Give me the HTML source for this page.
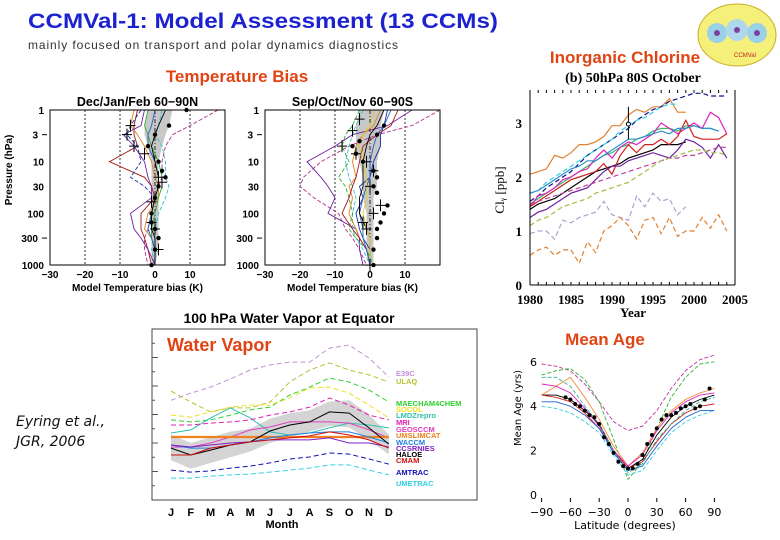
<!DOCTYPE html>
<html><head><meta charset="utf-8"><style>
body{margin:0;background:#fff;width:780px;height:540px;overflow:hidden}
svg{display:block;font-family:"Liberation Sans",sans-serif}
</style></head><body>
<svg id="s" width="780" height="540" viewBox="0 0 780 540">
<text x="28" y="28" font-size="21" font-weight="bold" fill="#1c22d0" textLength="470" lengthAdjust="spacingAndGlyphs">CCMVal-1:  Model Assessment (13 CCMs)</text>
<text x="28" y="49" font-size="12" fill="#333" textLength="370">mainly focused on transport and polar dynamics diagnostics</text>
<g>
<ellipse cx="737" cy="35" rx="39" ry="31" fill="#f4f07a" stroke="#c8b020"/>
<circle cx="717" cy="33" r="10" fill="#9ad0e8"/><circle cx="737" cy="30" r="11" fill="#b0d8ec"/><circle cx="757" cy="33" r="10" fill="#9ad0e8"/>
<circle cx="717" cy="33" r="3" fill="#8040a0"/><circle cx="737" cy="30" r="3" fill="#8040a0"/><circle cx="757" cy="33" r="3" fill="#8040a0"/>
<text x="745" y="57" font-size="6" fill="#c02020" text-anchor="middle">CCMVal</text></g>
<text x="237" y="82" font-size="17" font-weight="bold" fill="#e04414" text-anchor="middle">Temperature Bias</text>
<text x="625" y="63" font-size="17" font-weight="bold" fill="#e04414" text-anchor="middle">Inorganic Chlorine</text>
<text x="605" y="345" font-size="17" font-weight="bold" fill="#e04414" text-anchor="middle">Mean Age</text>
<text x="16" y="426" font-size="14" font-style="italic" fill="#111" font-family="DejaVu Sans,sans-serif">Eyring et al.,</text>
<text x="16" y="446" font-size="14" font-style="italic" fill="#111" font-family="DejaVu Sans,sans-serif">JGR, 2006</text>
</svg>
<script>
// ---------- Temperature bias data ----------
const tLevels=[1,2,3,5,10,20,30,50,100,200,300,500,1000];
const djfColors=["#b03090","#a01818","#1830a0","#30c0d0","#e08020","#30b030","#7020a0","#2060d0","#000"];
const djfDash=[1,0,1,1,0,0,0,0,0];
const djfLines=[
[18,10,5,3,2,2,1,0,-1,-2,-3,-3,-2],
[-5,-6,-6,-5,-13,-3,-1,0,-4,-4,-3,-2,-1],
[-4,-7,-8,-5,-4,-7,-3,0,-1,-2,-1,0,0],
[2,1,0,2,3,3,4,3,1,0,0,-1,0],
[-6,-7,-5,-3,-1,0,1,1,-2,-3,-1,0,0],
[-2,-3,-2,-1,1,2,2,1,0,-1,-1,0,0],
[-3,-4,-9,-6,-3,-2,-1,-1,-7,-6,-4,-2,0],
[0,-1,-2,-2,0,1,1,0,-1,-2,-1,0,0],
[3,1,0,-1,0,1,1,0,-1,-1,0,0,0]];
const djfBandLo=[-2,-3,-3,-2,-1,-1,-1,-1,-1,-1,-1,-1,-1];
const djfBandHi=[5,4,3,2,1,1,1,1,1,1,1,1,0];
const djfDotsX=[9,4,0,-2,1,2,3,1,0,-1,-1,0,1,0,-1];
const djfDotsP=[1,2,3,5,10,15,20,30,50,100,150,200,300,500,1000];
const djfCrossX=[-7,-8,-6,-3,1,2,-1,-1,0,1];
const djfCrossP=[2,3,5,7,20,25,60,150,200,500];
const sonColors=["#b03090","#7020a0","#1830a0","#30c0d0","#e08020","#30b030","#a01818","#2060d0","#000","#e0d020"];
const sonDash=[1,0,0,1,0,1,0,0,0,0];
const sonLines=[
[20,12,2,-6,-14,-19,-20,-16,-9,-7,-5,-3,-1],
[12,5,-5,-10,-18,-14,-12,-10,-12,-4,-3,-3,-2],
[5,4,3,3,1,0,-3,-2,-4,-3,-2,0,0],
[-2,-4,-5,-6,-7,-6,-5,-4,-5,-5,-4,-2,0],
[3,1,-2,-4,-5,-4,-6,-5,-6,-4,-3,-1,0],
[-3,-5,-7,-8,-6,-9,-7,-6,-5,-6,-4,-1,1],
[8,6,2,-2,-3,-4,-5,-6,-8,-5,-3,-1,0],
[6,4,2,1,0,0,-1,-2,-3,-2,-2,-1,0],
[4,2,0,-1,-2,-2,-2,-3,-3,-1,0,0,0],
[1,0,-2,-3,-2,-1,-1,-1,-2,-1,0,0,0]];
const sonBandLo=[-3,-4,-4,-4,-3,-2,-2,-2,-1,-1,-1,-1,0];
const sonBandHi=[4,3,3,3,2,2,2,1,1,1,1,1,1];
const sonDotsX=[4,2,-3,-5,-4,-2,1,2,1,2,5,4,3,2,2,1,1];
const sonDotsP=[2,3,4,5,7,10,15,20,30,40,70,100,150,200,300,500,1000];
const sonCrossX=[-3,-5,-8,-4,-1,1,0,3,1,-2,-1,0];
const sonCrossP=[1.5,2.5,5,7,10,15,30,70,100,150,200,1000];
// ---------- Chlorine data ----------
const clYears=[1980,1981,1982,1983,1984,1985,1986,1987,1988,1989,1990,1991,1992,1993,1994,1995,1996,1997,1998,1999,2000,2001,2002,2003,2004];
const clColors=["#e08030","#10108a","#30d0e0","#000","#30c060","#e020c0","#d02020","#7020a0","#c040a0","#a0c040","#b0a0d0","#e08030","#3090d0"];
const clDash=[0,1,1,0,0,0,0,0,1,1,1,1,0];
const clSeries=[
[2.05,2.1,2.15,2.4,2.35,2.45,2.6,2.6,2.65,2.75,2.95,2.95,3.15,3.25,3.2,3.3,3.3,3.45,3.2,3.2],
[1.55,1.65,1.8,1.9,2.0,2.1,2.25,2.4,2.5,2.6,2.7,2.8,2.9,3.05,3.15,3.25,3.3,3.4,3.45,3.5,3.55,3.55,3.5,3.5,3.5],
[1.7,1.75,1.9,2.0,2.1,2.2,2.3,2.4,2.5,2.6,2.7,2.85,2.95,3.05,3.1,3.2,3.3,3.35,3.35],
[1.4,1.5,1.55,1.6,1.7,1.8,1.9,2.0,2.1,2.15,2.2,2.25,2.35,2.4,2.45,2.5,2.6,2.6,2.6,2.65],
[1.5,1.6,1.7,1.8,1.9,2.0,2.1,2.2,2.3,2.4,2.45,2.55,2.6,2.7,2.75,2.85,2.9,2.9,2.85,2.95,2.95,2.9,2.9,2.85],
[1.45,1.65,1.7,1.8,1.95,2.0,2.1,2.15,2.35,2.5,2.35,2.55,2.65,2.6,2.7,2.8,3.0,2.9,2.8,2.9,3.0,2.9,3.2,3.1,2.8],
[1.45,1.55,1.65,1.75,1.85,1.95,2.0,2.05,2.1,2.25,2.05,2.4,2.6,2.45,2.6,2.6,2.7,2.6,2.75,3.05,2.75,2.7,2.7,2.7,2.8],
[1.25,1.35,1.4,1.5,1.6,1.7,1.75,1.8,1.95,2.1,2.2,2.2,2.3,2.35,2.4,2.45,2.4,2.35,2.5,2.7,2.65,2.55,2.35,2.6,2.35],
[1.5,1.55,1.6,1.65,1.7,1.75,1.8,1.85,1.9,1.95,2.0,2.05,2.1,2.15,2.2,2.25,2.3,2.35,2.35,2.4,2.4,2.45,2.5,2.55,2.55],
[1.1,1.2,1.25,1.35,1.45,1.5,1.55,1.6,1.7,1.75,1.8,1.85,1.9,2.0,2.1,2.2,2.3,2.35,2.4,2.45,2.5,2.5,2.45,2.45,2.4],
[0.95,1.0,1.0,0.85,1.2,1.15,1.25,1.3,1.35,1.55,1.3,1.25,1.2,1.65,1.45,1.7,1.55,1.6,1.3,1.45],
[0.55,0.65,0.7,0.55,0.65,0.65,0.4,0.8,0.6,1.0,1.1,1.25,1.1,0.85,1.2,1.25,0.95,1.25,0.9,1.0,1.0,1.25,1.05,1.3,1.0],
[1.7,1.75,1.85,1.95,2.05,2.15,2.2,2.3,2.3,2.4,2.5,2.6,2.7,2.7,2.75,2.8,2.85,2.8,2.9,2.9,2.95,2.9,2.9,2.85]];
const clTicks=[1980,1985,1990,1995,2000,2005];
const clYTicks=[0,1,2,3];
// ---------- Water vapor data ----------
const wvMonths=["J","F","M","A","M","J","J","A","S","O","N","D"];
const wvNames=["E39C","ULAQ","MAECHAM4CHEM","SOCOL","LMDZrepro","MRI","GEOSCCM","UMSLIMCAT","WACCM","CCSRNIES","HALOE","CMAM","AMTRAC","UMETRAC"];
const wvColors=["#c090d8","#b8c030","#30d030","#f0e020","#30c0b0","#e020b0","#e040c0","#f08020","#2080e0","#8020c0","#000","#d01010","#1010b0","#30d0e0"];
const wvDash=[1,1,1,1,0,1,0,0,0,0,0,0,1,1];
const wvLabelY=[373,381,403,409,415,422,429,435,442,448,454,460,472,483];
const wvSeries=[
[3.5,3.75,3.96,4.25,4.56,4.74,4.84,4.84,5.33,5.44,4.98,4.32],
[3.82,3.44,3.09,3.23,3.23,3.44,4.14,4.56,4.81,4.56,4.39,4.14],
[2.81,2.74,2.81,2.98,3.16,3.26,3.68,3.96,4.28,4.14,3.86,3.44],
[2.98,2.91,3.09,3.26,3.33,3.33,3.58,3.93,3.96,3.75,3.33,2.88],
[2.35,2.46,2.88,3.23,2.88,2.39,2.28,2.35,2.53,2.7,2.63,2.53],
[2.63,2.63,2.7,2.74,2.81,2.98,3.09,3.26,3.58,3.33,2.98,2.81],
[1.86,1.86,2.0,2.21,2.46,2.56,2.74,2.74,2.74,2.7,2.46,2.18],
[2.21,2.21,2.21,2.21,2.21,2.21,2.21,2.21,2.21,2.21,2.21,2.21],
[1.93,1.82,1.82,1.93,2.04,2.18,2.28,2.35,2.39,2.39,2.21,2.0],
[1.93,1.86,1.93,2.0,2.04,2.11,2.11,2.11,2.18,2.0,2.0,1.86],
[1.82,1.58,1.75,1.93,2.04,2.42,2.63,2.74,3.09,3.05,2.53,1.96],
[1.58,1.58,1.82,1.93,2.04,2.11,2.18,2.25,2.39,2.28,2.11,1.82],
[1.05,0.98,1.02,1.12,1.19,1.3,1.44,1.51,1.65,1.61,1.44,1.26],
[0.77,0.77,0.84,0.88,0.91,0.98,1.05,1.12,1.23,1.23,1.05,0.88]];
const wvBandLo=[1.4,1.1,1.3,1.5,1.7,2.0,2.2,2.4,2.6,2.55,2.1,1.6];
const wvBandHi=[2.3,2.0,2.2,2.4,2.5,2.85,3.05,3.15,3.45,3.5,3.0,2.3];
// ---------- Mean age data ----------
const maLats=[-90,-75,-60,-45,-30,-15,0,15,30,45,60,75,90];
const maColors=["#c030a0","#30b030","#f09030","#000","#d02020","#30d0e0","#e020c0","#30b0a0","#2060d0"];
const maDash=[1,1,0,0,0,1,0,1,0];
const maSeries=[
[5.9,5.8,5.6,5.0,4.2,3.3,2.9,3.1,3.8,4.8,5.6,6.1,6.3],
[5.4,5.6,5.7,5.2,4.2,2.5,0.7,1.5,3.0,4.4,5.3,5.9,6.0],
[4.5,4.9,5.3,4.4,3.4,2.2,1.3,1.9,3.0,3.8,4.3,4.6,4.8],
[4.5,4.5,4.3,3.8,3.2,2.0,1.2,1.6,2.7,3.5,4.0,4.3,4.5],
[4.5,4.4,4.2,3.7,3.0,2.0,1.2,1.5,2.4,3.2,3.7,4.0,4.1],
[4.0,3.9,3.7,3.3,2.8,1.8,0.9,1.1,2.0,2.8,3.3,3.6,3.8],
[5.0,4.9,4.6,3.9,3.1,2.0,1.3,1.8,2.9,3.7,4.2,4.5,4.6],
[5.3,5.3,4.9,4.0,3.2,2.0,1.0,1.4,2.5,3.2,3.8,4.2,4.4],
[4.2,4.2,4.0,3.6,3.0,1.9,1.1,1.3,2.2,3.0,3.5,3.8,3.8]];
const maObsLat=[-65,-60,-55,-50,-45,-40,-35,-30,-25,-20,-15,-10,-5,0,5,10,15,20,25,30,35,40,45,50,55,60,65,70,75,80,85];
const maObsAge=[4.4,4.3,4.1,4.0,3.8,3.6,3.5,3.2,2.6,2.3,1.9,1.5,1.3,1.2,1.2,1.4,1.8,2.3,2.7,3.0,3.4,3.6,3.6,3.7,3.9,4.0,4.1,3.9,4.0,4.3,4.8];
const maTicks=[-90,-60,-30,0,30,60,90];
const maYTicks=[0,2,4,6];

const NS="http://www.w3.org/2000/svg";
const S=document.getElementById('s');
function mk(tag,at,parent,txt){const e=document.createElementNS(NS,tag);for(const k in at)e.setAttribute(k,at[k]);if(txt!==undefined)e.textContent=txt;(parent||S).appendChild(e);return e;}
function grp(name){const g=mk('g',{});


return g;}
function pts(xs,ys){return xs.map((x,i)=>x.toFixed(1)+','+ys[i].toFixed(1)).join(' ');}

// ---------- Temperature panels ----------
function tempPanel(name,title,x0,lines,colors,dash,bLo,bHi,dX,dP,cX,cP){
  const g=grp(name);
  const X=v=>x0+(v+30)*3.5, Y=p=>110+Math.log10(p)*51.7;
  const band=tLevels.map((p,i)=>[X(bHi[i]),Y(p)]).concat(tLevels.map((p,i)=>[X(bLo[i]),Y(p)]).reverse());
  const b=mk('polygon',{points:band.map(a=>a.join(',')).join(' '),fill:'#c8c8c8'},g);
  
  
  [-20,-10,0,10].forEach(v=>mk('line',{x1:X(v),x2:X(v),y1:110,y2:265,stroke:'#000','stroke-width':0.8,'stroke-dasharray':v==0?'4,2,1,2':'2,2'},g));
  lines.forEach((l,i)=>{const pl=mk('polyline',{points:pts(l.map(X),tLevels.map(Y)),fill:'none',stroke:colors[i],'stroke-width':0.9,'stroke-dasharray':dash[i]?'4,2':'none'},g);
    
    });
  dX.forEach((v,i)=>{const c=mk('circle',{cx:X(v),cy:Y(dP[i]),r:2.2,fill:'#000'},g);
    
    });
  cX.forEach((v,i)=>{const x=X(v),y=Y(cP[i]);mk('path',{d:`M${x-5},${y}h10M${x},${y-6}v12`,stroke:'#000','stroke-width':1},g);});
  mk('rect',{x:X(-30),y:110,width:175,height:155,fill:'none',stroke:'#000','stroke-width':1},g);
  [1,3,10,30,100,300,1000].forEach(p=>{mk('text',{x:X(-30)-(p==300||p==3?12:6),y:Y(p)+4,'font-size':10,'font-weight':'bold','text-anchor':'end'},g,p);
    if(p==3||p==300){mk('line',{x1:X(-30)-8,x2:X(-30)-3,y1:Y(p),y2:Y(p),stroke:'#000'},g);}});
  [-30,-20,-10,0,10].forEach(v=>mk('text',{x:X(v),y:278,'font-size':10,'font-weight':'bold','text-anchor':'middle'},g,v<0?'\u2212'+(-v):v));
  mk('text',{x:X(-5),y:291,'font-size':10,'font-weight':'bold','text-anchor':'middle'},g,'Model Temperature bias (K)');
  mk('text',{x:X(-5),y:106,'font-size':12.5,'font-weight':'bold','text-anchor':'middle'},g,title);
}
tempPanel('djf-temperature-panel','Dec/Jan/Feb 60\u221290N',50,djfLines,djfColors,djfDash,djfBandLo,djfBandHi,djfDotsX,djfDotsP,djfCrossX,djfCrossP);
tempPanel('son-temperature-panel','Sep/Oct/Nov 60\u221290S',265,sonLines,sonColors,sonDash,sonBandLo,sonBandHi,sonDotsX,sonDotsP,sonCrossX,sonCrossP);
const pl=mk('text',{x:12,y:170,'font-size':10,'font-weight':'bold','text-anchor':'middle',transform:'rotate(-90 12 170)'},S,'Pressure (hPa)');



// ---------- Chlorine ----------
(function(){
  const g=grp('chlorine-panel');
  const X=y=>530+(y-1980)*8.2, Y=v=>285-v*54;
  clSeries.forEach((s,i)=>{const p=mk('polyline',{points:pts(s.map((v,j)=>X(clYears[j])),s.map(Y)),fill:'none',stroke:clColors[i],'stroke-width':1.2,'stroke-dasharray':clDash[i]?'5,3':'none'},g);
    
    });
  mk('line',{x1:X(1992),x2:X(1992),y1:Y(3.3),y2:Y(2.7),stroke:'#000','stroke-width':1},g);
  mk('circle',{cx:X(1992),cy:Y(2.98),r:2,fill:'#fff',stroke:'#000'},g);
  mk('line',{x1:X(1980),x2:X(1980),y1:90,y2:285,stroke:'#000','stroke-width':1},g);
  mk('line',{x1:X(2005),x2:X(2005),y1:90,y2:285,stroke:'#000','stroke-width':1},g);
  mk('line',{x1:X(1980),x2:X(2005),y1:285,y2:285,stroke:'#000','stroke-width':1},g);
  for(let y=1981;y<2005;y++){mk('line',{x1:X(y),x2:X(y),y1:285,y2:282,stroke:'#000'},g);mk('line',{x1:X(y),x2:X(y),y1:90,y2:93,stroke:'#000'},g);}
  clTicks.forEach(t=>mk('text',{x:X(t),y:304,'font-size':13,'font-weight':'bold','text-anchor':'middle','font-family':'Liberation Serif,serif'},g,t));
  clYTicks.forEach(t=>mk('text',{x:522,y:Y(t)+5,'font-size':13,'font-weight':'bold','text-anchor':'end','font-family':'Liberation Serif,serif'},g,t));
  mk('text',{x:633,y:317,'font-size':13,'font-weight':'bold','text-anchor':'middle','font-family':'Liberation Serif,serif'},g,'Year');
  mk('text',{x:633,y:82,'font-size':14,'font-weight':'bold','text-anchor':'middle','font-family':'Liberation Serif,serif'},g,'(b) 50hPa 80S October');
  mk('text',{x:504,y:190,'font-size':13,'text-anchor':'middle','font-family':'Liberation Serif,serif',transform:'rotate(-90 504 190)'},g,'Cl\u1D67 [ppb]');
})();

// ---------- Water vapor ----------
(function(){
  const g=grp('water-vapor-panel');
  mk('rect',{x:152,y:329,width:325,height:171,fill:'#fff',stroke:'#444','stroke-width':1},g);
  const X=i=>171+i*19.8, Y=v=>500-v*28.5;
  for(let v=0.5;v<6;v+=0.5)mk('line',{x1:152,x2:v%1?155:158,y1:Y(v),y2:Y(v),stroke:'#555'},g);
  const band=wvBandHi.map((v,i)=>[X(i),Y(v)]).concat(wvBandLo.map((v,i)=>[X(i),Y(v)]).reverse());
  const b=mk('polygon',{points:band.map(a=>a.join(',')).join(' '),fill:'#d4d4d4'},g);
  
  
  wvSeries.forEach((s,i)=>{const p=mk('polyline',{points:pts(s.map((v,j)=>X(j)),s.map(Y)),fill:'none',stroke:wvColors[i],'stroke-width':wvNames[i]=='UMSLIMCAT'?2.2:1,'stroke-dasharray':wvDash[i]?'5,3':'none'},g);
    
    
    const t=mk('text',{x:396,y:wvLabelY[i]+3,'font-size':7.5,'font-weight':'bold',fill:wvColors[i]},g,wvNames[i]);
    
    });
  wvMonths.forEach((m,i)=>mk('text',{x:X(i),y:516,'font-size':11,'font-weight':'bold','text-anchor':'middle'},g,m));
  mk('text',{x:282,y:528,'font-size':11,'font-weight':'bold','text-anchor':'middle'},g,'Month');
  mk('text',{x:289,y:323,'font-size':14,'font-weight':'bold','text-anchor':'middle'},g,'100 hPa Water Vapor at Equator');
  mk('text',{x:167,y:351,'font-size':18,'font-weight':'bold',fill:'#e04414'},g,'Water Vapor');
})();

// ---------- Mean age ----------
(function(){
  const g=grp('mean-age-panel');
  const X=l=>628+l*0.96, Y=v=>495-v*22.2;
  maSeries.forEach((s,i)=>{const p=mk('polyline',{points:pts(maLats.map(X),s.map(Y)),fill:'none',stroke:maColors[i],'stroke-width':0.9,'stroke-dasharray':maDash[i]?'4,2':'none','stroke-linejoin':'round'},g);
    
    });
  maObsLat.forEach((l,i)=>{const c=mk('circle',{cx:X(l),cy:Y(maObsAge[i]),r:2,fill:'#000'},g);
    
    });
  maTicks.forEach(t=>{mk('text',{x:X(t),y:516,'font-size':11,'text-anchor':'middle','font-family':'DejaVu Sans,sans-serif'},g,t<0?'\u2212'+(-t):t);
    mk('line',{x1:X(t),x2:X(t),y1:498,y2:502,stroke:'#000'},g);});
  maYTicks.forEach(t=>mk('text',{x:537,y:Y(t)+4,'font-size':11,'text-anchor':'end','font-family':'DejaVu Sans,sans-serif'},g,t));
  mk('text',{x:625,y:529,'font-size':11,'text-anchor':'middle','font-family':'DejaVu Sans,sans-serif'},g,'Latitude (degrees)');
  mk('text',{x:521,y:408,'font-size':10,'text-anchor':'middle','font-family':'DejaVu Sans,sans-serif',transform:'rotate(-90 521 408)'},g,'Mean Age (yrs)');
})();
</script>
</body></html>
